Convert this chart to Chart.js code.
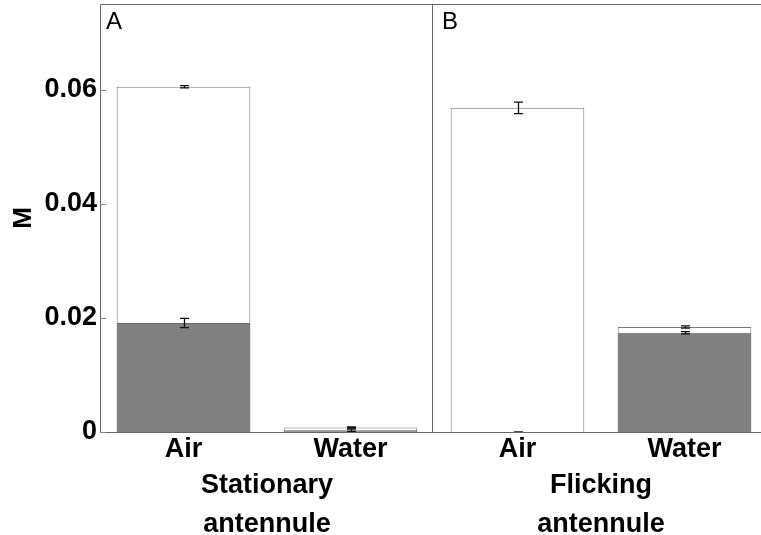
<!DOCTYPE html>
<html>
<head>
<meta charset="utf-8">
<script src="https://cdn.jsdelivr.net/npm/chart.js@4"></script>
<style>
  html, body { margin: 0; padding: 0; background: #fff; overflow: hidden; }
  #wrap { width: 761px; height: 535px; overflow: hidden; }
</style>
</head>
<body>
<div id="wrap"><canvas id="myChart" width="768" height="535"></canvas></div>
<script>
const categories = ['Air', 'Water', 'Air', 'Water'];
const groups = [['Stationary', 'antennule'], ['Flicking', 'antennule']];
const panelLetters = ['A', 'B'];
const yTicks = [0, 0.02, 0.04, 0.06];

// white (total) bars and grey bars drawn over them
const totalValues = [0.0605, 0.0008, 0.0568, 0.0184];
const totalErrors = [0.0002, 0.0001, 0.001, 0.0002];
const greyValues = [0.0191, 0.0003, 0, 0.0174];
const greyErrors = [0.0008, 0.0002, 0.00003, 0.0002];

const font = 'Liberation Sans, Arial, sans-serif';

const frame = {
    id: 'frame',
    afterDatasetsDraw(chart) {
        const c = chart.ctx;
        const a = chart.chartArea;
        const y = chart.scales.y;
        c.save();

        // error bars
        chart.data.datasets.forEach((ds, di) => {
            const meta = chart.getDatasetMeta(di);
            c.strokeStyle = '#111';
            c.lineWidth = 1.3;
            meta.data.forEach((bar, i) => {
                const v = ds.data[i], e = ds.errors[i];
                const y1 = y.getPixelForValue(v + e);
                const y2 = y.getPixelForValue(v - e);
                const x = Math.round(bar.x) + 0.5;
                c.beginPath();
                c.moveTo(x, y1); c.lineTo(x, y2);
                c.moveTo(x - 4.5, y1); c.lineTo(x + 4.5, y1);
                c.moveTo(x - 4.5, y2); c.lineTo(x + 4.5, y2);
                c.stroke();
            });
        });

        // panel box and divider
        c.strokeStyle = '#666';
        c.lineWidth = 1;
        const mid = Math.round((a.left + a.right) / 2) - 1.5;
        c.beginPath();
        c.moveTo(a.left + 0.5, a.bottom);
        c.lineTo(a.left + 0.5, a.top + 0.5);
        c.lineTo(a.right - 0.5, a.top + 0.5);
        c.lineTo(a.right - 0.5, a.bottom);
        c.moveTo(mid, a.top);
        c.lineTo(mid, a.bottom);
        c.moveTo(a.left, a.bottom + 0.5);
        c.lineTo(a.right, a.bottom + 0.5);
        c.stroke();

        // inward tick marks
        c.strokeStyle = '#888';
        yTicks.forEach(t => {
            const py = Math.round(y.getPixelForValue(t)) + 0.5;
            c.beginPath();
            c.moveTo(a.left, py);
            c.lineTo(a.left + 6, py);
            c.stroke();
        });

        // panel letters
        c.fillStyle = '#000';
        c.font = '24px ' + font;
        c.textBaseline = 'top';
        c.fillText(panelLetters[0], a.left + 6, a.top + 6);
        c.fillText(panelLetters[1], mid + 9.5, a.top + 6);
        c.restore();
    }
};

const myChart = new Chart(document.getElementById('myChart').getContext('2d'), {
    type: 'bar',
    data: {
        labels: categories,
        datasets: [{
            label: 'grey',
            data: greyValues,
            errors: greyErrors,
            backgroundColor: '#808080',
            borderColor: '#6a6a6a',
            borderWidth: 1,
            order: 1
        }, {
            label: 'total',
            data: totalValues,
            errors: totalErrors,
            backgroundColor: '#ffffff',
            borderColor: '#7a7a7a',
            borderWidth: 1,
            order: 2
        }]
    },
    options: {
        responsive: false,
        animation: false,
        layout: { padding: { left: 0, right: 0, top: 4, bottom: 0 } },
        plugins: { legend: { display: false }, tooltip: { enabled: false } },
        datasets: { bar: { grouped: false, barPercentage: 0.8, categoryPercentage: 1 } },
        scales: {
            y: {
                min: 0,
                max: 0.075,
                afterBuildTicks: s => { s.ticks = yTicks.map(v => ({ value: v })); },
                afterFit: s => { s.width = 100; s.paddingTop = 0; s.paddingBottom = 0; },
                grid: { display: false, drawTicks: false },
                border: { display: false },
                ticks: {
                    padding: 3,
                    color: '#000',
                    font: { family: font, size: 27, weight: 'bold' },
                    callback: v => v === 0 ? '0' : v.toFixed(2)
                },
                title: {
                    display: true,
                    text: 'M',
                    color: '#000',
                    padding: { top: 8, bottom: 0 },
                    font: { family: font, size: 26, weight: 'bold' }
                }
            },
            x: {
                afterFit: s => { s.height = 34; s.paddingLeft = 0; s.paddingRight = 0; },
                grid: { display: false, drawTicks: false },
                border: { display: false },
                ticks: {
                    padding: 1,
                    color: '#000',
                    font: { family: font, size: 27, weight: 'bold' }
                }
            },
            x2: {
                type: 'category',
                labels: groups,
                position: 'bottom',
                afterFit: s => { s.height = 69; s.paddingLeft = 0; s.paddingRight = 0; },
                grid: { display: false, drawTicks: false },
                border: { display: false },
                ticks: {
                    padding: 0,
                    color: '#000',
                    font: { family: font, size: 27, weight: 'bold', lineHeight: 1.45 }
                }
            }
        }
    },
    plugins: [frame]
});
</script>
</body>
</html>
